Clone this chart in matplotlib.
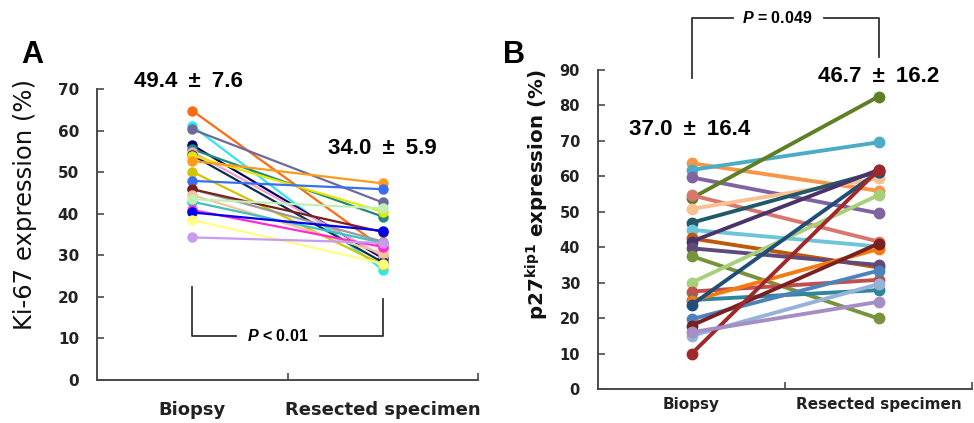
import matplotlib
matplotlib.use("Agg")
import matplotlib.pyplot as plt

plt.rcParams['mathtext.fontset'] = 'custom'
plt.rcParams['mathtext.rm'] = 'DejaVu Sans'
plt.rcParams['mathtext.bf'] = 'DejaVu Sans:bold'
plt.rcParams['mathtext.it'] = 'Liberation Sans:italic'
plt.rcParams['mathtext.bfit'] = 'Liberation Sans:italic:bold'

# ---------------- data ----------------
groups = ["Biopsy", "Resected specimen"]

ki67_biopsy = [64.8, 61.1, 60.3, 56.5, 55.5, 54.9, 54.1, 54.0, 52.7, 50.1,
               47.9, 45.9, 45.9, 44.5, 42.9, 43.5, 40.9, 40.3, 38.5, 34.3]
ki67_resected = [31.8, 26.5, 42.7, 29.3, 39.3, 29.8, 28.3, 40.5, 47.3, 27.7,
                 45.9, 33.3, 35.6, 30.5, 33.0, 41.3, 32.0, 35.9, 28.0, 33.0]
ki67_colors = ['#ff6a13', '#33e6e6', '#6b6b9a', '#000066', '#1f8a78', '#f4a0c8',
               '#0b2f4f', '#e6e600', '#ff9a1a', '#d4c400', '#3a6ef0', '#9a9a9a',
               '#7a1f1f', '#f6c49a', '#40c0c0', '#c0f0b8', '#ff2ad4', '#0000f0',
               '#ffff80', '#c89af0']

p27_biopsy = [63.7, 61.8, 59.7, 53.8, 54.7, 50.8, 46.9, 44.9, 42.5, 41.6,
              39.7, 37.5, 30.0, 27.5, 25.1, 24.9, 23.7, 19.7, 17.9, 15.0, 9.9, 16.0]
p27_resected = [55.9, 69.6, 49.6, 82.5, 41.6, 59.4, 61.3, 40.2, 34.3, 61.8,
                35.0, 19.9, 54.7, 30.8, 27.9, 39.5, 61.3, 33.4, 41.0, 29.6, 61.8, 24.6]
p27_colors = ['#f79646', '#4bacc6', '#8064a2', '#5f7f25', '#d9776f', '#fac090',
              '#215968', '#6cc5d8', '#c0580c', '#4a3368', '#604a7b', '#77933c',
              '#a8d07a', '#c0504d', '#31859c', '#f57a10', '#1f4e79', '#4f81bd',
              '#7b2020', '#95b3d7', '#a0282a', '#a58ec6']

ki67_stats = ["49.4\u2002\u00b1\u20027.6", "34.0\u2002\u00b1\u20025.9"]
p27_stats = ["37.0\u2002\u00b1\u200216.4", "46.7\u2002\u00b1\u200216.2"]
ki67_p = r"$\mathbfit{P}$ < 0.01"
p27_p = r"$\mathbfit{P}$ = 0.049"

W, H = 974, 423
fig = plt.figure(figsize=(W / 100, H / 100), dpi=100)

def fx(px):
    return px / W

def fy(py):
    return 1 - py / H

axis_col = '#4a4a4a'
xpos = [0.5, 1.5]

def style_axis(ax, ymax, ystep, tick_fs):
    ax.set_xlim(0, 2)
    ax.set_ylim(0, ymax)
    for s in ['top', 'right']:
        ax.spines[s].set_visible(False)
    for s in ['left', 'bottom']:
        ax.spines[s].set_color(axis_col)
        ax.spines[s].set_linewidth(1.4)
    ax.set_yticks(range(0, ymax + 1, ystep))
    ax.tick_params(axis='y', direction='in', length=5, width=1.2, color=axis_col,
                   pad=13, labelsize=tick_fs)
    for lab in ax.get_yticklabels():
        lab.set_fontweight('bold')
        lab.set_color('#222222')
    ax.set_xticks([1, 2])
    ax.set_xticklabels([])
    ax.tick_params(axis='x', direction='in', length=5, width=1.2, color=axis_col)

# ---------------- Panel A ----------------
axA = fig.add_axes([fx(97), fy(380), fx(478 - 97), (380 - 89) / H])
style_axis(axA, 70, 10, 11)
for b, r, c in zip(ki67_biopsy, ki67_resected, ki67_colors):
    axA.plot(xpos, [b, r], color=c, lw=1.6, marker='o', ms=6.5, zorder=3)
for x, lab in zip(xpos, groups):
    axA.text(x, -7.3, lab, ha='center', va='center', fontsize=13, fontweight='bold',
             color='#222222', clip_on=False)
axA.text(0.48, 71.7, ki67_stats[0], ha='center', va='center', fontsize=16,
         fontweight='bold', family='Liberation Sans', clip_on=False)
axA.text(1.5, 55.8, ki67_stats[1], ha='center', va='center', fontsize=16,
         fontweight='bold', family='Liberation Sans', clip_on=False)
bk = dict(color='#333333', lw=1.3, clip_on=False)
axA.plot([0.5, 0.5, 0.73], [22.4, 10.6, 10.6], **bk)
axA.plot([1.17, 1.5, 1.5], [10.6, 10.6, 19.5], **bk)
axA.text(0.95, 10.6, ki67_p, ha='center', va='center', fontsize=11.5,
         fontweight='bold', family='Liberation Sans')
fig.text(fx(25), fy(205), "Ki-67 expression (%)", rotation=90, ha='center',
         va='center', fontsize=17.5, color='#111111')
fig.text(fx(32), fy(55), "A", ha='center', va='center', fontsize=22,
         fontweight='bold', family='Liberation Sans')

# ---------------- Panel B ----------------
axB = fig.add_axes([fx(598), fy(389), fx(972 - 598), (389 - 70) / H])
style_axis(axB, 90, 10, 10.5)
for b, r, c in zip(p27_biopsy, p27_resected, p27_colors):
    axB.plot(xpos, [b, r], color=c, lw=2.8, marker='o', ms=7.5, zorder=3)
for x, lab in zip(xpos, groups):
    axB.text(x, -4.3, lab, ha='center', va='center', fontsize=11, fontweight='bold',
             color='#222222', clip_on=False)
axB.text(0.49, 73.1, p27_stats[0], ha='center', va='center', fontsize=16,
         fontweight='bold', family='Liberation Sans', clip_on=False)
axB.text(1.5, 88.3, p27_stats[1], ha='center', va='center', fontsize=16,
         fontweight='bold', family='Liberation Sans', clip_on=False)
axB.plot([0.5, 0.5, 0.72], [87.8, 104.7, 104.7], **bk)
axB.plot([1.21, 1.5, 1.5], [104.7, 104.7, 93.7], **bk)
axB.text(0.96, 104.7, p27_p, ha='center', va='center', fontsize=11.5,
         fontweight='bold', family='Liberation Sans', clip_on=False)
fig.text(fx(537), fy(195), r"p27$^{\mathbf{kip1}}$ expression (%)", rotation=90,
         ha='center', va='center', fontsize=14.3, fontweight='bold', color='#111111')
fig.text(fx(514), fy(55), "B", ha='center', va='center', fontsize=22,
         fontweight='bold', family='Liberation Sans')

fig.savefig("out.png", dpi=100)
